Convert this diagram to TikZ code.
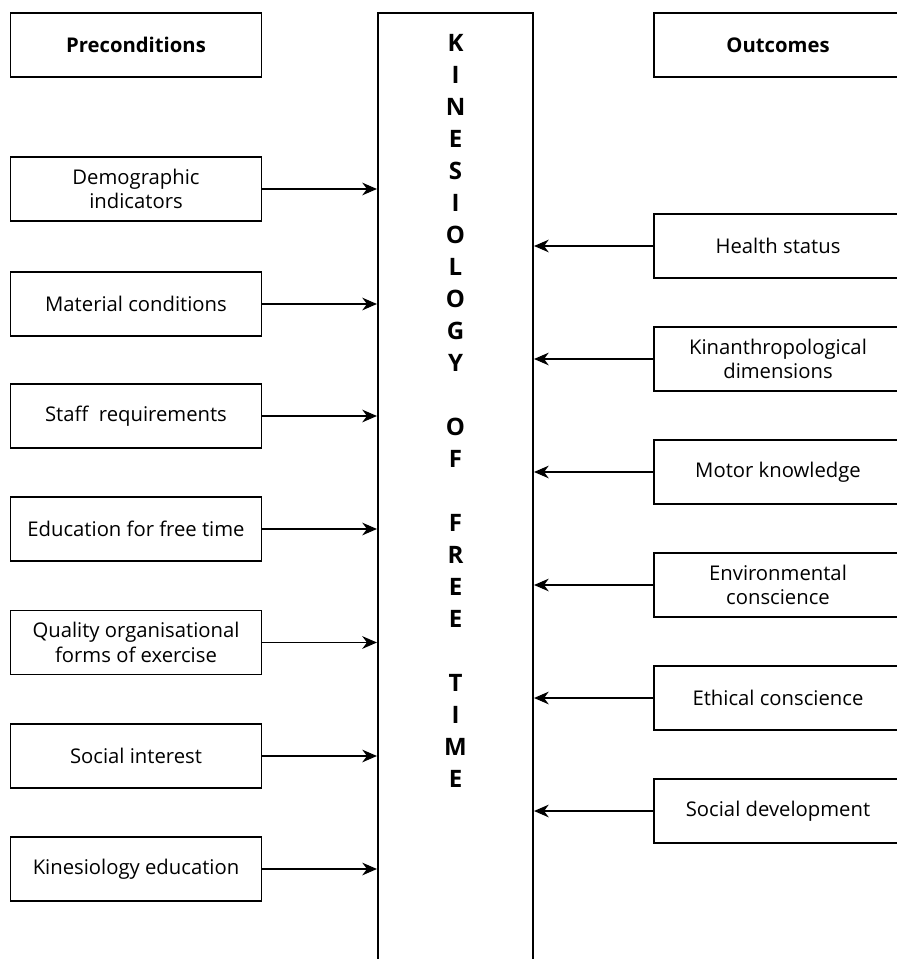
\documentclass[tikz,border=0pt]{standalone}
\usepackage{fontspec}
\setmainfont{Open Sans}
\usetikzlibrary{positioning, arrows.meta}

\begin{document}
\begin{tikzpicture}[
x=0.75pt, y=-0.75pt,
    factor/.style={rectangle, draw, line width=0.8pt, minimum width=188.6pt, minimum height=48pt, align=center, inner sep=2pt, font=\fontsize{15.2}{18.5}\selectfont},
    outcome/.style={factor, minimum width=186pt},
    header/.style={factor, font=\bfseries\fontsize{15.2}{18.5}\selectfont},
    spine/.style={rectangle, draw, line width=1.6pt, minimum width=116.25pt, minimum height=740pt, anchor=north, inner sep=0pt},
    spinetext/.style={align=center, anchor=north, inner sep=0pt, font=\bfseries\fontsize{18}{24}\selectfont},
    link/.style={draw, line width=0.8pt, -{Stealth[length=11pt, width=9.5pt, inset=3.5pt]}}
]
    \useasboundingbox (0,0) rectangle (896,959);

    % Headers
    \node[header] (pre) at (136,45) {Preconditions};
    \node[header, minimum width=186pt] (out) at (778,45) {Outcomes};

    % Middle column
    \node[spine] (kft) at (455.5,12) {};
    \node[spinetext] (title) at (455.5,34.5) {K\\I\\N\\E\\S\\I\\O\\L\\O\\G\\Y\\[24pt]O\\F\\[24pt]F\\R\\E\\E\\[24pt]T\\I\\M\\E};

    % Preconditions
    \node[factor] (demo) at (136,189) {Demographic\\indicators};
    \node[factor] (mat) at (136,304) {Material conditions};
    \node[factor] (staff) at (136,416) {Staff~ requirements};
    \node[factor] (edu) at (136,529) {Education for free time};
    \node[factor] (qual) at (136,642.5) {Quality organisational\\forms of exercise};
    \node[factor] (soc) at (136,756) {Social interest};
    \node[factor] (kin) at (136,869) {Kinesiology education};

    % Outcomes
    \node[outcome] (health) at (778,246) {Health status};
    \node[outcome] (kinan) at (778,359) {Kinanthropological\\dimensions};
    \node[outcome] (motor) at (778,472) {Motor knowledge};
    \node[outcome] (env) at (778,585) {Environmental\\conscience};
    \node[outcome] (eth) at (778,698) {Ethical conscience};
    \node[outcome] (socdev) at (778,811) {Social development};

    % Preconditions into the middle column
    \draw[link] (demo) -- (demo -| kft.west);
    \draw[link] (mat) -- (mat -| kft.west);
    \draw[link] (staff) -- (staff -| kft.west);
    \draw[link] (edu) -- (edu -| kft.west);
    \draw[link] (qual) -- (qual -| kft.west);
    \draw[link] (soc) -- (soc -| kft.west);
    \draw[link] (kin) -- (kin -| kft.west);

    % Outcomes into the middle column
    \draw[link] (health) -- (health -| kft.east);
    \draw[link] (kinan) -- (kinan -| kft.east);
    \draw[link] (motor) -- (motor -| kft.east);
    \draw[link] (env) -- (env -| kft.east);
    \draw[link] (eth) -- (eth -| kft.east);
    \draw[link] (socdev) -- (socdev -| kft.east);

\end{tikzpicture}
\end{document}
